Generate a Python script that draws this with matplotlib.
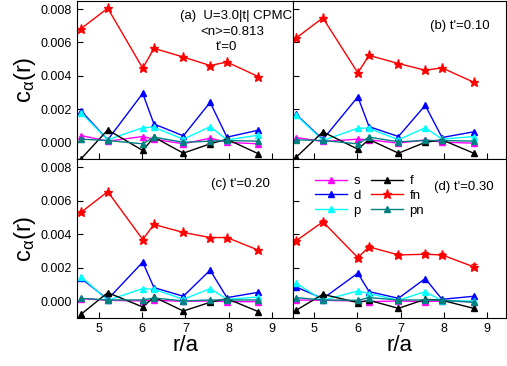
import numpy as np
import matplotlib
matplotlib.use("Agg")
import matplotlib.pyplot as plt
from matplotlib.lines import Line2D

plt.rcParams["font.family"] = ["Liberation Sans", "DejaVu Sans"]
plt.rcParams["mathtext.fontset"] = "custom"
plt.rcParams["mathtext.rm"] = "Liberation Sans"
plt.rcParams["mathtext.it"] = "Liberation Sans:italic"

# distances r/a
r = [4.58, 5.20, 6.01, 6.27, 6.95, 7.57, 7.96, 8.69]

# values in units of 1e-3, one dict per panel
pa = {
    "s":  [0.41, 0.07, 0.35, 0.19, -0.09, 0.25, 0.00, -0.09],
    "d":  [1.90, 0.15, 2.94, 1.10, 0.39, 2.40, 0.31, 0.73],
    "p":  [1.78, 0.15, 0.88, 0.90, 0.19, 0.94, 0.15, 0.43],
    "f":  [-1.00, 0.75, -0.49, 0.31, -0.65, -0.09, 0.19, -0.69],
    "fn": [6.82, 8.05, 4.45, 5.64, 5.12, 4.61, 4.82, 3.94],
    "pn": [0.19, 0.11, -0.09, 0.31, 0.00, 0.07, 0.11, 0.07],
}
pb = {
    "s":  [0.29, 0.05, 0.19, 0.15, -0.05, 0.15, 0.01, -0.05],
    "d":  [1.68, 0.17, 2.73, 0.94, 0.35, 2.22, 0.29, 0.63],
    "p":  [1.64, 0.11, 0.85, 0.85, 0.15, 0.88, 0.19, 0.35],
    "f":  [-0.90, 0.63, -0.41, 0.17, -0.65, 0.00, 0.15, -0.65],
    "fn": [6.26, 7.47, 4.17, 5.22, 4.73, 4.33, 4.47, 3.61],
    "pn": [0.15, 0.11, -0.09, 0.31, 0.03, 0.11, 0.11, 0.07],
}
pc = {
    "s":  [0.16, 0.06, 0.02, 0.06, 0.00, 0.02, -0.02, -0.02],
    "d":  [1.38, 0.12, 2.34, 0.82, 0.30, 1.86, 0.22, 0.54],
    "p":  [1.48, 0.06, 0.76, 0.72, 0.12, 0.76, 0.12, 0.26],
    "f":  [-0.78, 0.52, -0.34, 0.26, -0.58, -0.06, 0.16, -0.62],
    "fn": [5.31, 6.55, 3.69, 4.59, 4.11, 3.81, 3.81, 3.05],
    "pn": [0.18, 0.08, 0.08, 0.20, 0.02, 0.08, 0.08, 0.08],
}
pd_ = {
    "s":  [0.08, 0.06, 0.02, -0.02, 0.02, -0.02, 0.02, -0.02],
    "d":  [0.86, 0.16, 1.68, 0.58, 0.18, 1.36, 0.12, 0.30],
    "p":  [1.08, 0.06, 0.62, 0.46, 0.06, 0.58, 0.02, 0.02],
    "f":  [-0.54, 0.42, -0.08, 0.06, -0.42, 0.12, 0.06, -0.42],
    "fn": [3.61, 4.75, 2.61, 3.25, 2.77, 2.81, 2.77, 2.06],
    "pn": [0.22, 0.08, 0.06, 0.22, 0.08, 0.08, 0.06, -0.06],
}
fn_err_d = [0.12, 0.10, 0.12, 0.12, 0.10, 0.12, 0.12, 0.15]

order = ["s", "d", "p", "f", "fn", "pn"]
colors = {"s": "#ff00ff", "d": "#0000ff", "p": "#00ffff",
          "f": "#000000", "fn": "#ff0000", "pn": "#008080"}
markers = {k: ("*" if k == "fn" else "^") for k in order}
msizes = {k: (6.5 if k == "fn" else 5) for k in order}

fig = plt.figure(figsize=(5.07, 3.66), dpi=100)
L, M, R = 0.152, 0.578, 0.998
B, H, T = 0.131, 0.5656, 0.998
axa = fig.add_axes([L, H, M - L, T - H])
axb = fig.add_axes([M, H, R - M, T - H])
axc = fig.add_axes([L, B, M - L, H - B])
axd = fig.add_axes([M, B, R - M, H - B])

def draw(ax, vals, err=None):
    for k in order:
        y = np.array(vals[k]) * 1e-3
        if k == "fn" and err is not None:
            ax.errorbar(r, y, yerr=np.array(err) * 1e-3, color=colors[k],
                        marker=markers[k], ms=msizes[k], lw=1, capsize=2, elinewidth=1)
        else:
            ax.plot(r, y, color=colors[k], marker=markers[k], ms=msizes[k], lw=1)
    ax.set_ylim(-0.001, 0.0085)
    ax.set_yticks([0, 0.002, 0.004, 0.006, 0.008])
    ax.set_xticks([5, 6, 7, 8, 9])
    ax.tick_params(direction="in", labelsize=9, length=4)

draw(axa, pa)
draw(axb, pb)
draw(axc, pc)
draw(axd, pd_, fn_err_d)

axa.set_xlim(4.49, 9.49)
axc.set_xlim(4.49, 9.49)
axb.set_xlim(4.51, 9.44)
axd.set_xlim(4.51, 9.44)

for ax in (axa, axc):
    ax.yaxis.set_major_formatter(matplotlib.ticker.FormatStrFormatter("%.3f"))
    ax.set_ylabel(r"c$_{\mathrm{α}}$(r)", fontsize=17, labelpad=2)
for ax in (axb, axd):
    ax.set_yticklabels([])
for ax in (axa, axb):
    ax.set_xticklabels([])
for ax in (axc, axd):
    ax.set_xlabel("r/a", fontsize=16, labelpad=0)

axa.text(0.477, 0.906, "(a)  U=3.0|t| CPMC", transform=axa.transAxes,
         ha="left", va="center", fontsize=9.5)
axa.text(0.718, 0.805, "<n>=0.813", transform=axa.transAxes,
         ha="center", va="center", fontsize=9.5)
axa.text(0.69, 0.71, "t'=0", transform=axa.transAxes,
         ha="center", va="center", fontsize=9.5)
axb.text(0.784, 0.843, "(b) t'=0.10", transform=axb.transAxes,
         ha="center", va="center", fontsize=9.5)
axc.text(0.755, 0.843, "(c) t'=0.20", transform=axc.transAxes,
         ha="center", va="center", fontsize=9.5)
axd.text(0.80, 0.824, "(d) t'=0.30", transform=axd.transAxes,
         ha="center", va="center", fontsize=9.5)

handles = [Line2D([], [], color=colors[k], marker=markers[k], ms=msizes[k], lw=1)
           for k in order]
axd.legend(handles, order, ncol=2, frameon=False,
           loc="upper left", bbox_to_anchor=(0.103, 0.90), fontsize=9.5,
           borderpad=0, borderaxespad=0,
           handlelength=2.4, columnspacing=0.8, labelspacing=0.2, handletextpad=0.5)

fig.savefig("out.png", dpi=100)
